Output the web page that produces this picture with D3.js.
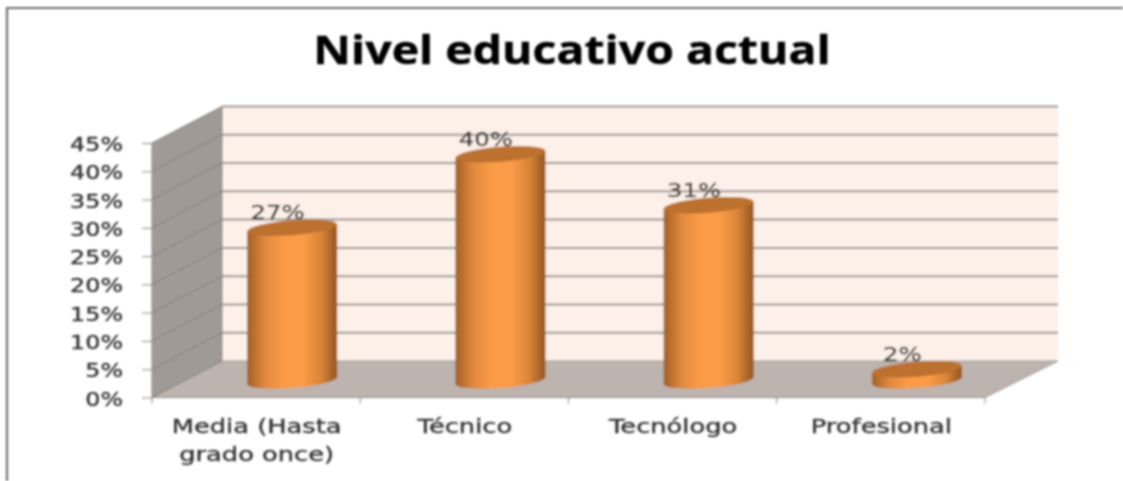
<!DOCTYPE html>
<html><head><meta charset="utf-8">
<script src="https://cdn.jsdelivr.net/npm/d3@7"></script>
<style>html,body{margin:0;padding:0;background:#fff}svg{display:block}</style></head>
<body><svg id="c" width="1123" height="481"></svg>
<script>
const title = "Nivel educativo actual";
const categories = [["Media (Hasta","grado once)"],["Técnico"],["Tecnólogo"],["Profesional"]];
const values = [0.27,0.40,0.31,0.02];
const valueLabels = ["27%","40%","31%","2%"];
const ticks = [0,0.05,0.10,0.15,0.20,0.25,0.30,0.35,0.40,0.45];

const svg = d3.select("#c");
const defs = svg.append("defs");
const blur = defs.append("filter").attr("id","b").attr("filterUnits","userSpaceOnUse").attr("x",0).attr("y",0).attr("width",1123).attr("height",481);
blur.append("feGaussianBlur").attr("stdDeviation",0.8);
const grad = defs.append("linearGradient").attr("id","cyl");
[[0,"#a5602a"],[0.06,"#b56c2c"],[0.2,"#e08a3e"],[0.4,"#fb9b47"],[0.62,"#fb9b47"],[0.82,"#d98538"],[0.94,"#a9652a"],[1,"#94551f"]]
  .forEach(d=>grad.append("stop").attr("offset",d[0]).attr("stop-color",d[1]));

const g = svg.append("g").attr("filter","url(#b)");
const dx = 70, dy = -36.5;
const y = d3.scaleLinear().domain([0,0.45]).range([397.5,143]);
const x = d3.scaleBand().domain(d3.range(categories.length)).range([152,985]);
const backR = 1058;
const textCol = "#333333";
const label = sel => sel.attr("font-family","DejaVu Sans").attr("fill",textCol).attr("stroke",textCol).attr("stroke-width",0.35);

// frame: left and top only
g.append("path").attr("d","M7,481V8H1123").attr("fill","none").attr("stroke","#6e6e6e").attr("stroke-width",2.2);

// back wall
g.append("rect").attr("x",x(0)+dx).attr("y",y(0.45)+dy).attr("width",backR-152-dx).attr("height",y(0)-y(0.45))
  .attr("fill","#fdf0e9");
// side wall
const wall=(a,b)=>`M${x(0)},${y(a)}L${x(0)+dx},${y(a)+dy}L${x(0)+dx},${y(b)+dy}L${x(0)},${y(b)}Z`;
g.append("path").attr("d",wall(0,0.45)).attr("fill","#a09a96");
// floor
g.append("path").attr("d",`M${x(0)},${y(0)}L${x(0)+dx},${y(0)+dy}L${backR},${y(0)+dy}L985,${y(0)}Z`).attr("fill","#bdb3af").attr("stroke","#a09a96").attr("stroke-width",1);
// gridlines
ticks.forEach(t=>{
  if(t>0) g.append("line").attr("x1",x(0)+dx).attr("x2",backR).attr("y1",y(t)+dy).attr("y2",y(t)+dy).attr("stroke","#9a9592").attr("stroke-width",2);
  g.append("line").attr("x1",x(0)).attr("x2",x(0)+dx).attr("y1",y(t)).attr("y2",y(t)+dy).attr("stroke","#85807c").attr("stroke-width",1);
});
g.append("line").attr("x1",x(0)+dx).attr("x2",x(0)+dx).attr("y1",y(0)+dy).attr("y2",y(0.45)+dy).attr("stroke","#85807c");

// axes
const yAxis = g.append("g").attr("transform",`translate(${x(0)},0)`).call(d3.axisLeft(y).tickValues(ticks).tickSize(10).tickFormat(d3.format(".0%")));
yAxis.select(".domain").attr("stroke","#8a8a8a").attr("d",`M0,${y(0)}V${y(0.45)}`);
yAxis.selectAll(".tick line").attr("stroke","#8a8a8a");
yAxis.selectAll(".tick text").remove();
ticks.forEach(t=>{
  g.append("text").attr("transform",`translate(123,${y(t)+8}) scale(1.22,1)`).attr("text-anchor","end")
   .attr("font-size",19.5).call(label).text(d3.format(".0%")(t));
});
const xAxis = g.append("g").attr("transform",`translate(0,${y(0)})`).call(d3.axisBottom(x).tickSize(0).tickFormat(""));
xAxis.select(".domain").attr("stroke","#8a8a8a").attr("d",`M152,0H985`);
d3.range(categories.length+1).forEach(i=>{
  const tx = 152+(985-152)*i/categories.length;
  g.append("line").attr("x1",tx).attr("x2",tx).attr("y1",y(0)).attr("y2",y(0)+6).attr("stroke","#8a8a8a");
});

// cylinders
const depth = 17, rx = 45, ry = 7.5, tilt = -4.6;
values.forEach((v,i)=>{
  const cx = x(i)+x.bandwidth()/2+dx/2+1;
  const base = y(0)-depth, top = y(v)-depth;
  const slope = Math.tan(tilt*Math.PI/180)*rx;
  g.append("text").attr("transform",`translate(${cx-14.5},${top-8.5}) scale(1.22,1)`).attr("text-anchor","middle")
    .attr("font-size",20).call(label).text(valueLabels[i]);
  const c = g.append("g");
  c.append("path").attr("d",`M${cx-rx},${top-slope}L${cx+rx},${top+slope}L${cx+rx},${base+slope}A${rx},${ry} ${tilt} 0 1 ${cx-rx},${base-slope}Z`).attr("fill","url(#cyl)");
  c.append("ellipse").attr("cx",cx).attr("cy",top).attr("rx",rx).attr("ry",ry)
    .attr("transform",`rotate(${tilt},${cx},${top})`).attr("fill","#bd712e");
});

// category labels
categories.forEach((lines,i)=>{
  const cx = x(i)+x.bandwidth()/2+0.5;
  lines.forEach((t,j)=>{
    g.append("text").attr("transform",`translate(${cx},${433+j*28}) scale(1.34,1)`).attr("text-anchor","middle")
      .attr("font-size",19.2).call(label).text(t);
  });
});

// title
g.append("text").attr("transform","translate(572,64) scale(1.19,1)").attr("text-anchor","middle")
  .attr("font-family","Open Sans").attr("font-weight",700).attr("font-size",39).attr("fill","#050505").attr("stroke","#050505").attr("stroke-width",0.4).text(title);
</script></body></html>
